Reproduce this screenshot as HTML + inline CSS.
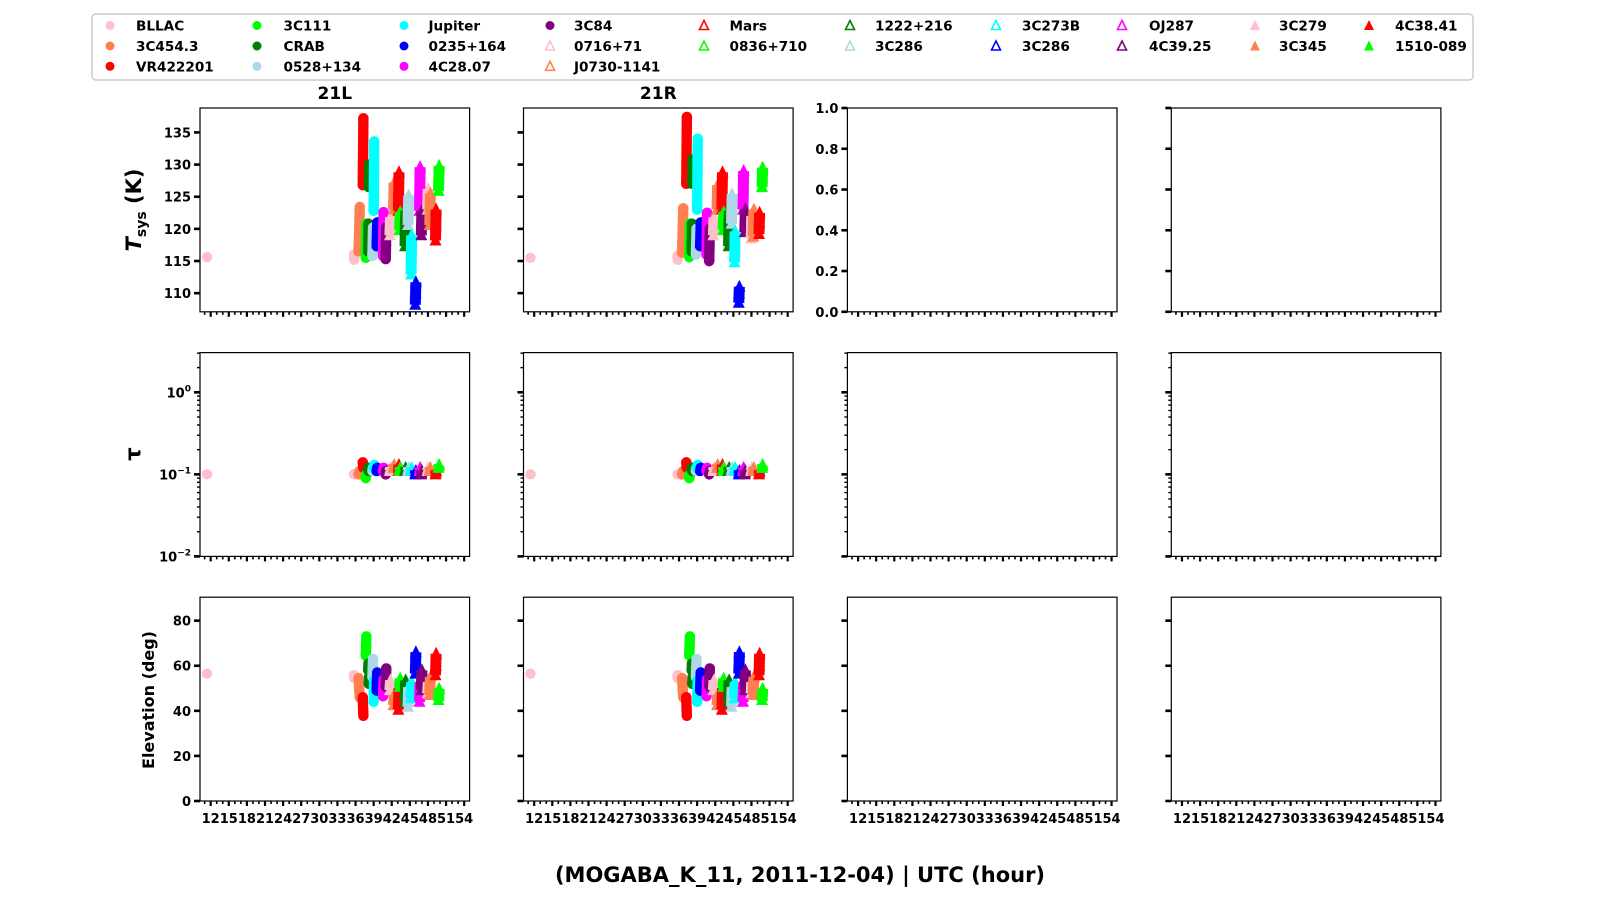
<!DOCTYPE html>
<html><head><meta charset="utf-8"><style>
html,body{margin:0;padding:0;background:#fff}
svg{display:block;font-family:"DejaVu Sans","Liberation Sans",sans-serif;font-weight:bold}
</style></head><body>
<svg id="fig" width="1600" height="900" viewBox="0 0 1600 900" xmlns="http://www.w3.org/2000/svg">
<rect x="0" y="0" width="1600" height="900" fill="#fff"/>
<g id="legend">
<rect x="92" y="14" width="1381" height="66" rx="4" fill="#fff" stroke="#ccc" stroke-width="1.5"/>
</g>
<g id="panels"></g>
<text x="334.8" y="99" text-anchor="middle" font-size="17">21L</text>
<text x="658.3" y="99" text-anchor="middle" font-size="17">21R</text>
<text transform="translate(141,210) rotate(-90)" text-anchor="middle" font-size="21"><tspan font-style="italic">T</tspan><tspan font-size="14" dy="5">sys</tspan><tspan dy="-5"> (K)</tspan></text>
<text transform="translate(140,454) rotate(-90)" text-anchor="middle" font-size="21">τ</text>
<text transform="translate(154,700) rotate(-90)" text-anchor="middle" font-size="16">Elevation (deg)</text>
<text x="800" y="882" text-anchor="middle" font-size="21">(MOGABA_K_11, 2011-12-04) | UTC (hour)</text>
</svg>
<script>
const sourceNames=["BLLAC","3C454.3","VR422201","3C111","CRAB","0528+134","Jupiter","0235+164","4C28.07","3C84","0716+71","J0730-1141","Mars","0836+710","1222+216","3C286","3C273B","3C286","OJ287","4C39.25","3C279","3C345","4C38.41","1510-089"];
const sourceColors=["pink","coral","red","lime","green","lightblue","cyan","blue","magenta","purple","pink","coral","red","lime","green","lightblue","cyan","blue","magenta","purple","pink","coral","red","lime"];
const sourceMarkers=["c","c","c","c","c","c","c","c","c","c","to","to","to","to","to","to","to","to","to","to","tf","tf","tf","tf"];
const hours=[[11.4,null,35.75,35.8],[36.5,36.6,36.7],[37.2,37.25,37.3],[37.7,37.75,37.8],[38.2,38.25,null,38.1,38.15],[38.8,38.85,38.9],[39.0,39.05,39.1],[39.5,39.55,39.6],[40.55,40.6,40.65],[41.0,41.05,41.1],[41.7,41.75,41.8],[42.3,42.35,42.4],[43.1,43.15,43.2],[43.3,43.35,43.4],[44.2,44.25,44.3],[44.7,44.75,44.8],[45.2,45.25,45.3],[45.9,45.95,46.0],[46.6,46.65,46.7],[46.9,46.95,47.0],[47.95,48.0,48.05],[48.3,48.35,48.4],[49.25,49.3,49.35],[49.75,49.8,49.85]];
const tsysL=[[115.6,null,116,115.2],[116.5,119.5,123.4],[126.8,132,137.2],[115.5,118,120.8],[126.5,130,null,116.5,120.8],[115.8,118,120.2],[122.8,128,133.6],[117.3,119,121],[115.8,119,122.6],[115.3,117.5,120.2],[119,120.5,121.8],[123,125,127.2],[122.8,126,128.8],[119.8,121,122.6],[117.3,120,122.8],[120.6,123,125.2],[112.9,116,119],[108.2,110,111.7],[122.8,126,129.6],[119,121,122.8],[123,124.5,126.2],[120.6,123,125.5],[118.2,120.5,123],[125.9,127.8,129.8]];
const tsysR=[[115.5,null,115.8,115.2],[116.3,119.5,123.2],[127,132,137.4],[115.6,118,120.8],[127,130.8,null,116.5,120.8],[116,118,120],[123,128,134],[117.3,119,121],[116,119,122.5],[115,117.5,120],[119,120.5,121.8],[123,125,126.8],[123,126,128.8],[119.8,121,122.6],[117.3,120,122.8],[120.8,123,125.4],[114.8,117,119.6],[108.5,110,111],[123,126,129],[119.5,121.5,123],[118.5,120,122],[118.8,121,123],[119.2,121,122.5],[126.5,128,129.5]];
const tau=[[0.10,null,0.10,0.10],[0.10,0.105,0.11],[0.14,0.13,0.12],[0.09,0.095,0.10],[0.11,0.12,null,0.115,0.12],[0.11,0.115,0.12],[0.12,0.125,0.13],[0.11,0.115,0.12],[0.11,0.115,0.12],[0.10,0.105,0.11],[0.11,0.115,0.12],[0.12,0.125,0.13],[0.11,0.12,0.13],[0.11,0.115,0.12],[0.11,0.115,0.12],[0.11,0.115,0.12],[0.11,0.115,0.12],[0.10,0.105,0.11],[0.11,0.115,0.12],[0.10,0.105,0.11],[0.11,0.115,0.12],[0.11,0.115,0.12],[0.10,0.105,0.11],[0.12,0.125,0.13]];
const elevation=[[56.5,null,55.8,54.5],[54.5,50,46],[46,41,37.8],[64.5,69,73],[52,55,null,58,61],[55,59,63],[44,49,53.5],[49,53,57],[46.5,50,54],[50.8,55,58.8],[49.2,51.5,53.5],[42.5,45,47],[40.5,45,50],[50.6,52.5,54.3],[44,49,53.5],[41.8,46,50.5],[45.6,49,52.7],[56.5,61,66],[44,48,52.7],[49.2,54,58],[47.8,50,52.7],[47,51,55],[55.8,60,65.3],[44.8,46.5,49.8]];
const xTicks=[12,15,18,21,24,27,30,33,36,39,42,45,48,51,54];
const tsysTicks=[110,115,120,125,130,135];
const emptyTicks=["0.0","0.2","0.4","0.6","0.8","1.0"];
const elevTicks=[0,20,40,60,80];
const tauDecades=[-2,-1,0];

const NS="http://www.w3.org/2000/svg";
const svg=document.getElementById('fig');
const panelsG=document.getElementById('panels');
function mk(tag,attrs,parent){const e=document.createElementNS(NS,tag);for(const k in attrs)e.setAttribute(k,attrs[k]);(parent||svg).appendChild(e);return e;}
const colLeft=[200,523.5,847.4,1171.3];
const PW=269.6;
const rowTop=[108,352.6,597.2];
const PH=203.8;
const XMIN=10.23,XMAX=54.9;
function xs(c,h){return colLeft[c]+(h-XMIN)/(XMAX-XMIN)*PW;}
function yTsys(v){return rowTop[0]+PH-(v-107.1)/(138.8-107.1)*PH;}
function yTau(v){return rowTop[1]+PH-(Math.log10(v)+2)/2.484*PH;}
function yElev(v){return rowTop[2]+PH-(v/90.4)*PH;}
function yEmpty(v){return rowTop[0]+PH-v*PH;}

function drawMarker(g,kind,color,x,y){
  if(kind==="c"){mk('circle',{cx:x,cy:y,r:5.2,fill:color},g);}
  else{mk('polygon',{points:(x-6)+","+(y+5)+" "+(x+6)+","+(y+5)+" "+x+","+(y-7),fill:color},g);}
}
function drawSeries(g,c,yfun,vals){
  for(let s=0;s<sourceNames.length;s++){
    const sg=mk('g',{},g);
    
    
    const kind=sourceMarkers[s],col=sourceColors[s];
    const hs=hours[s],vs=vals[s];
    let seg=[];
    const flush=()=>{
      if(seg.length>1){
        const pts=seg.map(p=>p[0]+","+p[1]).join(" ");
        mk('polyline',{points:pts,fill:"none",stroke:col,"stroke-width":kind==="c"?10.4:11,"stroke-linecap":kind==="c"?"round":"butt","stroke-linejoin":"round"},sg);
      }
      seg=[];
    };
    for(let i=0;i<hs.length;i++){
      if(hs[i]===null||vs[i]===null){flush();continue;}
      const x=xs(c,hs[i]),y=yfun(vs[i]);
      seg.push([x,y]);
      drawMarker(sg,kind,col,x,y);
    }
    flush();
  }
}
function frame(g,c,r){
  mk('rect',{x:colLeft[c],y:rowTop[r],width:PW,height:PH,fill:"none",stroke:"#000","stroke-width":1.2},g);
  const yb=rowTop[r]+PH;
  for(let h=11;h<=54;h++){
    const major=(h%3===0);
    const x=xs(c,h);
    mk('line',{x1:x,y1:yb,x2:x,y2:yb+(major?5:3),stroke:"#000","stroke-width":major?2.2:1.6},g);
  }
  if(r===2){
    for(const t of xTicks){
      const tx=mk('text',{x:xs(c,t),y:yb+22,"text-anchor":"middle","font-size":13},g);
      tx.textContent=t;
    }
  }
}
function yTick(g,c,y,label,minor){
  const x=colLeft[c];
  mk('line',{x1:x,y1:y,x2:x-(minor?3:6),y2:y,stroke:"#000","stroke-width":minor?1.4:2.6},g);
  if(label!==null){
    const t=mk('text',{x:x-9,y:y+5,"text-anchor":"end","font-size":13},g);
    if(typeof label==="object"){
      const a=document.createElementNS(NS,'tspan');a.textContent="10";t.appendChild(a);
      const b=document.createElementNS(NS,'tspan');b.setAttribute('font-size','9');b.setAttribute('dy','-6');b.textContent=label.exp;t.appendChild(b);
    }else t.textContent=label;
  }
}
for(let r=0;r<3;r++){
  for(let c=0;c<4;c++){
    const g=mk('g',{},panelsG);
    
    
    frame(g,c,r);
    if(r===0){
      if(c<2){
        for(const t of tsysTicks) yTick(g,c,yTsys(t),c===0?t:null,false);
        drawSeries(g,c,yTsys,c===0?tsysL:tsysR);
      }else{
        emptyTicks.forEach((t)=>yTick(g,c,yEmpty(parseFloat(t)),c===2?t:null,false));
      }
    }else if(r===1){
      for(const d of tauDecades){
        yTick(g,c,yTau(Math.pow(10,d)),c===0?{exp:(d<0?"−"+(-d):String(d))}:null,false);
        for(let m=2;m<=9;m++){const v=m*Math.pow(10,d);if(Math.log10(v)<=0.484)yTick(g,c,yTau(v),null,true);}
      }
      if(c<2)drawSeries(g,c,yTau,tau);
    }else{
      for(const t of elevTicks) yTick(g,c,yElev(t),c===0?t:null,false);
      if(c<2)drawSeries(g,c,yElev,elevation);
    }
  }
}
const legend=document.getElementById('legend');
const legX=[110,257,404,550,704,850,996,1122,1255,1369];
const legTX=[136,283.5,428.5,574,729.5,875,1022,1149,1279,1395];
const legY=[25.5,46,66.3];
const perCol=[3,3,3,3,2,2,2,2,2,2];
let idx=0;
for(let c=0;c<10;c++){
  for(let r=0;r<perCol[c];r++){
    const s=idx++;
    const eg=mk('g',{},legend);
    
    
    const x=legX[c],y=legY[r],col=sourceColors[s],k=sourceMarkers[s];
    if(k==="c")mk('circle',{cx:x,cy:y,r:4.5,fill:col},eg);
    else if(k==="tf")mk('polygon',{points:(x-5)+","+(y+4.5)+" "+(x+5)+","+(y+4.5)+" "+x+","+(y-5.5),fill:col},eg);
    else mk('polygon',{points:(x-4.5)+","+(y+4)+" "+(x+4.5)+","+(y+4)+" "+x+","+(y-5),fill:"none",stroke:col,"stroke-width":1.6},eg);
    const t=mk('text',{x:legTX[c],y:y+5,"font-size":13.6},eg);
    t.textContent=sourceNames[s];
  }
}
</script>
</body></html>
